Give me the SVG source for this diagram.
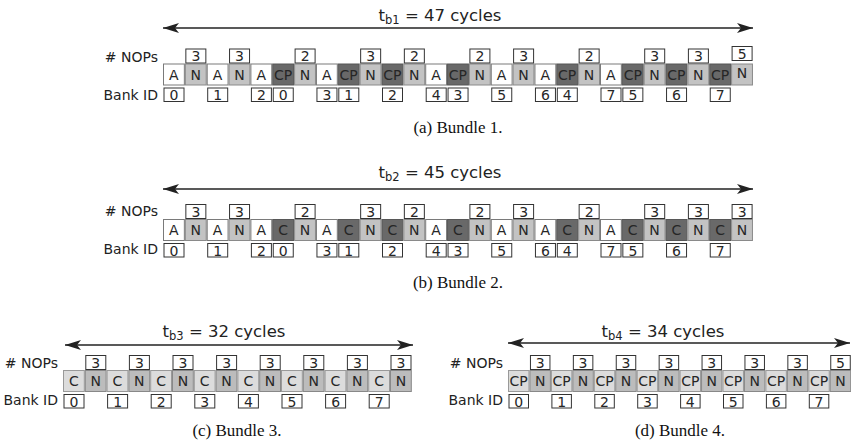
<svg xmlns="http://www.w3.org/2000/svg" width="851" height="444" viewBox="0 0 851 444">
<style>
.cA{fill:#ffffff;stroke:#7a7a7a;stroke-width:1}
.cN{fill:#c3c3c3;stroke:#8a8a8a;stroke-width:1}
.cD{fill:#696969;stroke:#575757;stroke-width:1}
.cL{fill:#dcdcdc;stroke:#999;stroke-width:1}
.cM{fill:#bcbcbc;stroke:#888;stroke-width:1}
.bx{fill:#ffffff;stroke:#333;stroke-width:1}
.t{font-family:"DejaVu Sans",sans-serif;font-size:14px;fill:#262626;text-anchor:middle}
.lb{font-family:"DejaVu Sans",sans-serif;font-size:14px;fill:#222;text-anchor:end}
.ti{font-family:"DejaVu Sans",sans-serif;font-size:16.5px;fill:#222;text-anchor:middle}
.cap{font-family:"Liberation Serif",serif;font-size:17px;fill:#111;text-anchor:middle}
.ar{stroke:#222;stroke-width:1.5;fill:none;marker-start:url(#ah);marker-end:url(#ah)}
</style>
<defs>
<marker id="ah" viewBox="0 0 16 10" refX="16" refY="5" markerWidth="16" markerHeight="10" markerUnits="userSpaceOnUse" orient="auto-start-reverse">
<path d="M0,0 L16,5 L0,10 L4,5 Z" fill="#222"/>
</marker>
</defs>

<g id="connectors">
<line class="ar" x1="163" y1="28" x2="753" y2="28"/>
<line class="ar" x1="163" y1="189" x2="753" y2="189"/>
<line class="ar" x1="65" y1="345" x2="413" y2="345"/>
<line class="ar" x1="508" y1="343" x2="850" y2="343"/>
</g>

<!-- Bundle 1 -->
<g id="bundle1">
<text class="ti" x="440" y="21">t<tspan font-size="11.5" dy="3">b1</tspan><tspan dy="-3"> = 47 cycles</tspan></text>
<text class="lb" x="158" y="61.5"># NOPs</text>
<text class="lb" x="158" y="100">Bank ID</text>
<g id="b1-0" transform="translate(163,63.5)"><rect class="cA" x="0.5" y="0.5" width="20.85" height="21"/><text class="t" x="10.9" y="16">A</text><rect class="bx" x="1" y="24.5" width="20" height="13.5"/><text class="t" x="11" y="36.5">0</text></g>
<g id="b1-1" transform="translate(184.85,63.5)"><rect class="cN" x="0.5" y="0.5" width="20.85" height="21"/><text class="t" x="10.9" y="16">N</text><rect class="bx" x="1" y="-14.5" width="20" height="14"/><text class="t" x="11" y="-2.5">3</text></g>
<g id="b1-2" transform="translate(206.7,63.5)"><rect class="cA" x="0.5" y="0.5" width="20.85" height="21"/><text class="t" x="10.9" y="16">A</text><rect class="bx" x="1" y="24.5" width="20" height="13.5"/><text class="t" x="11" y="36.5">1</text></g>
<g id="b1-3" transform="translate(228.55,63.5)"><rect class="cN" x="0.5" y="0.5" width="20.85" height="21"/><text class="t" x="10.9" y="16">N</text><rect class="bx" x="1" y="-14.5" width="20" height="14"/><text class="t" x="11" y="-2.5">3</text></g>
<g id="b1-4" transform="translate(250.4,63.5)"><rect class="cA" x="0.5" y="0.5" width="20.85" height="21"/><text class="t" x="10.9" y="16">A</text><rect class="bx" x="1" y="24.5" width="20" height="13.5"/><text class="t" x="11" y="36.5">2</text></g>
<g id="b1-5" transform="translate(272.25,63.5)"><rect class="cD" x="0.5" y="0.5" width="20.85" height="21"/><text class="t" x="10.9" y="16">CP</text><rect class="bx" x="1" y="24.5" width="20" height="13.5"/><text class="t" x="11" y="36.5">0</text></g>
<g id="b1-6" transform="translate(294.1,63.5)"><rect class="cN" x="0.5" y="0.5" width="20.85" height="21"/><text class="t" x="10.9" y="16">N</text><rect class="bx" x="1" y="-14.5" width="20" height="14"/><text class="t" x="11" y="-2.5">2</text></g>
<g id="b1-7" transform="translate(315.95,63.5)"><rect class="cA" x="0.5" y="0.5" width="20.85" height="21"/><text class="t" x="10.9" y="16">A</text><rect class="bx" x="1" y="24.5" width="20" height="13.5"/><text class="t" x="11" y="36.5">3</text></g>
<g id="b1-8" transform="translate(337.8,63.5)"><rect class="cD" x="0.5" y="0.5" width="20.85" height="21"/><text class="t" x="10.9" y="16">CP</text><rect class="bx" x="1" y="24.5" width="20" height="13.5"/><text class="t" x="11" y="36.5">1</text></g>
<g id="b1-9" transform="translate(359.65,63.5)"><rect class="cN" x="0.5" y="0.5" width="20.85" height="21"/><text class="t" x="10.9" y="16">N</text><rect class="bx" x="1" y="-14.5" width="20" height="14"/><text class="t" x="11" y="-2.5">3</text></g>
<g id="b1-10" transform="translate(381.5,63.5)"><rect class="cD" x="0.5" y="0.5" width="20.85" height="21"/><text class="t" x="10.9" y="16">CP</text><rect class="bx" x="1" y="24.5" width="20" height="13.5"/><text class="t" x="11" y="36.5">2</text></g>
<g id="b1-11" transform="translate(403.35,63.5)"><rect class="cN" x="0.5" y="0.5" width="20.85" height="21"/><text class="t" x="10.9" y="16">N</text><rect class="bx" x="1" y="-14.5" width="20" height="14"/><text class="t" x="11" y="-2.5">2</text></g>
<g id="b1-12" transform="translate(425.2,63.5)"><rect class="cA" x="0.5" y="0.5" width="20.85" height="21"/><text class="t" x="10.9" y="16">A</text><rect class="bx" x="1" y="24.5" width="20" height="13.5"/><text class="t" x="11" y="36.5">4</text></g>
<g id="b1-13" transform="translate(447.05,63.5)"><rect class="cD" x="0.5" y="0.5" width="20.85" height="21"/><text class="t" x="10.9" y="16">CP</text><rect class="bx" x="1" y="24.5" width="20" height="13.5"/><text class="t" x="11" y="36.5">3</text></g>
<g id="b1-14" transform="translate(468.9,63.5)"><rect class="cN" x="0.5" y="0.5" width="20.85" height="21"/><text class="t" x="10.9" y="16">N</text><rect class="bx" x="1" y="-14.5" width="20" height="14"/><text class="t" x="11" y="-2.5">2</text></g>
<g id="b1-15" transform="translate(490.75,63.5)"><rect class="cA" x="0.5" y="0.5" width="20.85" height="21"/><text class="t" x="10.9" y="16">A</text><rect class="bx" x="1" y="24.5" width="20" height="13.5"/><text class="t" x="11" y="36.5">5</text></g>
<g id="b1-16" transform="translate(512.6,63.5)"><rect class="cN" x="0.5" y="0.5" width="20.85" height="21"/><text class="t" x="10.9" y="16">N</text><rect class="bx" x="1" y="-14.5" width="20" height="14"/><text class="t" x="11" y="-2.5">3</text></g>
<g id="b1-17" transform="translate(534.45,63.5)"><rect class="cA" x="0.5" y="0.5" width="20.85" height="21"/><text class="t" x="10.9" y="16">A</text><rect class="bx" x="1" y="24.5" width="20" height="13.5"/><text class="t" x="11" y="36.5">6</text></g>
<g id="b1-18" transform="translate(556.3,63.5)"><rect class="cD" x="0.5" y="0.5" width="20.85" height="21"/><text class="t" x="10.9" y="16">CP</text><rect class="bx" x="1" y="24.5" width="20" height="13.5"/><text class="t" x="11" y="36.5">4</text></g>
<g id="b1-19" transform="translate(578.15,63.5)"><rect class="cN" x="0.5" y="0.5" width="20.85" height="21"/><text class="t" x="10.9" y="16">N</text><rect class="bx" x="1" y="-14.5" width="20" height="14"/><text class="t" x="11" y="-2.5">2</text></g>
<g id="b1-20" transform="translate(600,63.5)"><rect class="cA" x="0.5" y="0.5" width="20.85" height="21"/><text class="t" x="10.9" y="16">A</text><rect class="bx" x="1" y="24.5" width="20" height="13.5"/><text class="t" x="11" y="36.5">7</text></g>
<g id="b1-21" transform="translate(621.85,63.5)"><rect class="cD" x="0.5" y="0.5" width="20.85" height="21"/><text class="t" x="10.9" y="16">CP</text><rect class="bx" x="1" y="24.5" width="20" height="13.5"/><text class="t" x="11" y="36.5">5</text></g>
<g id="b1-22" transform="translate(643.7,63.5)"><rect class="cN" x="0.5" y="0.5" width="20.85" height="21"/><text class="t" x="10.9" y="16">N</text><rect class="bx" x="1" y="-14.5" width="20" height="14"/><text class="t" x="11" y="-2.5">3</text></g>
<g id="b1-23" transform="translate(665.55,63.5)"><rect class="cD" x="0.5" y="0.5" width="20.85" height="21"/><text class="t" x="10.9" y="16">CP</text><rect class="bx" x="1" y="24.5" width="20" height="13.5"/><text class="t" x="11" y="36.5">6</text></g>
<g id="b1-24" transform="translate(687.4,63.5)"><rect class="cN" x="0.5" y="0.5" width="20.85" height="21"/><text class="t" x="10.9" y="16">N</text><rect class="bx" x="1" y="-14.5" width="20" height="14"/><text class="t" x="11" y="-2.5">3</text></g>
<g id="b1-25" transform="translate(709.25,63.5)"><rect class="cD" x="0.5" y="0.5" width="20.85" height="21"/><text class="t" x="10.9" y="16">CP</text><rect class="bx" x="1" y="24.5" width="20" height="13.5"/><text class="t" x="11" y="36.5">7</text></g>
<g id="b1-26" transform="translate(731.1,63.5)"><rect class="cN" x="0.5" y="0.5" width="20.85" height="21"/><text class="t" x="10.9" y="14">N</text><rect class="bx" x="1" y="-17" width="20" height="14"/><text class="t" x="11" y="-5">5</text></g>
<text class="cap" x="458" y="133">(a) Bundle 1.</text>
</g>

<!-- Bundle 2 -->
<g id="bundle2">
<text class="ti" x="440" y="178">t<tspan font-size="11.5" dy="3">b2</tspan><tspan dy="-3"> = 45 cycles</tspan></text>
<text class="lb" x="158" y="215.5"># NOPs</text>
<text class="lb" x="158" y="254">Bank ID</text>
<g id="b2-0" transform="translate(163,219)"><rect class="cA" x="0.5" y="0.5" width="20.85" height="21"/><text class="t" x="10.9" y="16">A</text><rect class="bx" x="1" y="24.5" width="20" height="13.5"/><text class="t" x="11" y="36.5">0</text></g>
<g id="b2-1" transform="translate(184.85,219)"><rect class="cN" x="0.5" y="0.5" width="20.85" height="21"/><text class="t" x="10.9" y="16">N</text><rect class="bx" x="1" y="-14.5" width="20" height="14"/><text class="t" x="11" y="-2.5">3</text></g>
<g id="b2-2" transform="translate(206.7,219)"><rect class="cA" x="0.5" y="0.5" width="20.85" height="21"/><text class="t" x="10.9" y="16">A</text><rect class="bx" x="1" y="24.5" width="20" height="13.5"/><text class="t" x="11" y="36.5">1</text></g>
<g id="b2-3" transform="translate(228.55,219)"><rect class="cN" x="0.5" y="0.5" width="20.85" height="21"/><text class="t" x="10.9" y="16">N</text><rect class="bx" x="1" y="-14.5" width="20" height="14"/><text class="t" x="11" y="-2.5">3</text></g>
<g id="b2-4" transform="translate(250.4,219)"><rect class="cA" x="0.5" y="0.5" width="20.85" height="21"/><text class="t" x="10.9" y="16">A</text><rect class="bx" x="1" y="24.5" width="20" height="13.5"/><text class="t" x="11" y="36.5">2</text></g>
<g id="b2-5" transform="translate(272.25,219)"><rect class="cD" x="0.5" y="0.5" width="20.85" height="21"/><text class="t" x="10.9" y="16">C</text><rect class="bx" x="1" y="24.5" width="20" height="13.5"/><text class="t" x="11" y="36.5">0</text></g>
<g id="b2-6" transform="translate(294.1,219)"><rect class="cN" x="0.5" y="0.5" width="20.85" height="21"/><text class="t" x="10.9" y="16">N</text><rect class="bx" x="1" y="-14.5" width="20" height="14"/><text class="t" x="11" y="-2.5">2</text></g>
<g id="b2-7" transform="translate(315.95,219)"><rect class="cA" x="0.5" y="0.5" width="20.85" height="21"/><text class="t" x="10.9" y="16">A</text><rect class="bx" x="1" y="24.5" width="20" height="13.5"/><text class="t" x="11" y="36.5">3</text></g>
<g id="b2-8" transform="translate(337.8,219)"><rect class="cD" x="0.5" y="0.5" width="20.85" height="21"/><text class="t" x="10.9" y="16">C</text><rect class="bx" x="1" y="24.5" width="20" height="13.5"/><text class="t" x="11" y="36.5">1</text></g>
<g id="b2-9" transform="translate(359.65,219)"><rect class="cN" x="0.5" y="0.5" width="20.85" height="21"/><text class="t" x="10.9" y="16">N</text><rect class="bx" x="1" y="-14.5" width="20" height="14"/><text class="t" x="11" y="-2.5">3</text></g>
<g id="b2-10" transform="translate(381.5,219)"><rect class="cD" x="0.5" y="0.5" width="20.85" height="21"/><text class="t" x="10.9" y="16">C</text><rect class="bx" x="1" y="24.5" width="20" height="13.5"/><text class="t" x="11" y="36.5">2</text></g>
<g id="b2-11" transform="translate(403.35,219)"><rect class="cN" x="0.5" y="0.5" width="20.85" height="21"/><text class="t" x="10.9" y="16">N</text><rect class="bx" x="1" y="-14.5" width="20" height="14"/><text class="t" x="11" y="-2.5">2</text></g>
<g id="b2-12" transform="translate(425.2,219)"><rect class="cA" x="0.5" y="0.5" width="20.85" height="21"/><text class="t" x="10.9" y="16">A</text><rect class="bx" x="1" y="24.5" width="20" height="13.5"/><text class="t" x="11" y="36.5">4</text></g>
<g id="b2-13" transform="translate(447.05,219)"><rect class="cD" x="0.5" y="0.5" width="20.85" height="21"/><text class="t" x="10.9" y="16">C</text><rect class="bx" x="1" y="24.5" width="20" height="13.5"/><text class="t" x="11" y="36.5">3</text></g>
<g id="b2-14" transform="translate(468.9,219)"><rect class="cN" x="0.5" y="0.5" width="20.85" height="21"/><text class="t" x="10.9" y="16">N</text><rect class="bx" x="1" y="-14.5" width="20" height="14"/><text class="t" x="11" y="-2.5">2</text></g>
<g id="b2-15" transform="translate(490.75,219)"><rect class="cA" x="0.5" y="0.5" width="20.85" height="21"/><text class="t" x="10.9" y="16">A</text><rect class="bx" x="1" y="24.5" width="20" height="13.5"/><text class="t" x="11" y="36.5">5</text></g>
<g id="b2-16" transform="translate(512.6,219)"><rect class="cN" x="0.5" y="0.5" width="20.85" height="21"/><text class="t" x="10.9" y="16">N</text><rect class="bx" x="1" y="-14.5" width="20" height="14"/><text class="t" x="11" y="-2.5">3</text></g>
<g id="b2-17" transform="translate(534.45,219)"><rect class="cA" x="0.5" y="0.5" width="20.85" height="21"/><text class="t" x="10.9" y="16">A</text><rect class="bx" x="1" y="24.5" width="20" height="13.5"/><text class="t" x="11" y="36.5">6</text></g>
<g id="b2-18" transform="translate(556.3,219)"><rect class="cD" x="0.5" y="0.5" width="20.85" height="21"/><text class="t" x="10.9" y="16">C</text><rect class="bx" x="1" y="24.5" width="20" height="13.5"/><text class="t" x="11" y="36.5">4</text></g>
<g id="b2-19" transform="translate(578.15,219)"><rect class="cN" x="0.5" y="0.5" width="20.85" height="21"/><text class="t" x="10.9" y="16">N</text><rect class="bx" x="1" y="-14.5" width="20" height="14"/><text class="t" x="11" y="-2.5">2</text></g>
<g id="b2-20" transform="translate(600,219)"><rect class="cA" x="0.5" y="0.5" width="20.85" height="21"/><text class="t" x="10.9" y="16">A</text><rect class="bx" x="1" y="24.5" width="20" height="13.5"/><text class="t" x="11" y="36.5">7</text></g>
<g id="b2-21" transform="translate(621.85,219)"><rect class="cD" x="0.5" y="0.5" width="20.85" height="21"/><text class="t" x="10.9" y="16">C</text><rect class="bx" x="1" y="24.5" width="20" height="13.5"/><text class="t" x="11" y="36.5">5</text></g>
<g id="b2-22" transform="translate(643.7,219)"><rect class="cN" x="0.5" y="0.5" width="20.85" height="21"/><text class="t" x="10.9" y="16">N</text><rect class="bx" x="1" y="-14.5" width="20" height="14"/><text class="t" x="11" y="-2.5">3</text></g>
<g id="b2-23" transform="translate(665.55,219)"><rect class="cD" x="0.5" y="0.5" width="20.85" height="21"/><text class="t" x="10.9" y="16">C</text><rect class="bx" x="1" y="24.5" width="20" height="13.5"/><text class="t" x="11" y="36.5">6</text></g>
<g id="b2-24" transform="translate(687.4,219)"><rect class="cN" x="0.5" y="0.5" width="20.85" height="21"/><text class="t" x="10.9" y="16">N</text><rect class="bx" x="1" y="-14.5" width="20" height="14"/><text class="t" x="11" y="-2.5">3</text></g>
<g id="b2-25" transform="translate(709.25,219)"><rect class="cD" x="0.5" y="0.5" width="20.85" height="21"/><text class="t" x="10.9" y="16">C</text><rect class="bx" x="1" y="24.5" width="20" height="13.5"/><text class="t" x="11" y="36.5">7</text></g>
<g id="b2-26" transform="translate(731.1,219)"><rect class="cN" x="0.5" y="0.5" width="20.85" height="21"/><text class="t" x="10.9" y="16">N</text><rect class="bx" x="1" y="-14.5" width="20" height="14"/><text class="t" x="11" y="-2.5">3</text></g>
<text class="cap" x="458" y="288">(b) Bundle 2.</text>
</g>

<!-- Bundle 3 -->
<g id="bundle3">
<text class="ti" x="224" y="337">t<tspan font-size="11.5" dy="3">b3</tspan><tspan dy="-3"> = 32 cycles</tspan></text>
<text class="lb" x="58" y="368"># NOPs</text>
<text class="lb" x="58" y="405">Bank ID</text>
<g id="b3-0" transform="translate(63,370)"><rect class="cL" x="0.5" y="0.5" width="20.8" height="21"/><text class="t" x="10.9" y="16">C</text><rect class="bx" x="1" y="24.5" width="20" height="13.5"/><text class="t" x="11" y="36.5">0</text></g>
<g id="b3-1" transform="translate(84.8,370)"><rect class="cM" x="0.5" y="0.5" width="20.8" height="21"/><text class="t" x="10.9" y="16">N</text><rect class="bx" x="1" y="-14.5" width="20" height="14"/><text class="t" x="11" y="-2.5">3</text></g>
<g id="b3-2" transform="translate(106.6,370)"><rect class="cL" x="0.5" y="0.5" width="20.8" height="21"/><text class="t" x="10.9" y="16">C</text><rect class="bx" x="1" y="24.5" width="20" height="13.5"/><text class="t" x="11" y="36.5">1</text></g>
<g id="b3-3" transform="translate(128.4,370)"><rect class="cM" x="0.5" y="0.5" width="20.8" height="21"/><text class="t" x="10.9" y="16">N</text><rect class="bx" x="1" y="-14.5" width="20" height="14"/><text class="t" x="11" y="-2.5">3</text></g>
<g id="b3-4" transform="translate(150.2,370)"><rect class="cL" x="0.5" y="0.5" width="20.8" height="21"/><text class="t" x="10.9" y="16">C</text><rect class="bx" x="1" y="24.5" width="20" height="13.5"/><text class="t" x="11" y="36.5">2</text></g>
<g id="b3-5" transform="translate(172,370)"><rect class="cM" x="0.5" y="0.5" width="20.8" height="21"/><text class="t" x="10.9" y="16">N</text><rect class="bx" x="1" y="-14.5" width="20" height="14"/><text class="t" x="11" y="-2.5">3</text></g>
<g id="b3-6" transform="translate(193.8,370)"><rect class="cL" x="0.5" y="0.5" width="20.8" height="21"/><text class="t" x="10.9" y="16">C</text><rect class="bx" x="1" y="24.5" width="20" height="13.5"/><text class="t" x="11" y="36.5">3</text></g>
<g id="b3-7" transform="translate(215.6,370)"><rect class="cM" x="0.5" y="0.5" width="20.8" height="21"/><text class="t" x="10.9" y="16">N</text><rect class="bx" x="1" y="-14.5" width="20" height="14"/><text class="t" x="11" y="-2.5">3</text></g>
<g id="b3-8" transform="translate(237.4,370)"><rect class="cL" x="0.5" y="0.5" width="20.8" height="21"/><text class="t" x="10.9" y="16">C</text><rect class="bx" x="1" y="24.5" width="20" height="13.5"/><text class="t" x="11" y="36.5">4</text></g>
<g id="b3-9" transform="translate(259.2,370)"><rect class="cM" x="0.5" y="0.5" width="20.8" height="21"/><text class="t" x="10.9" y="16">N</text><rect class="bx" x="1" y="-14.5" width="20" height="14"/><text class="t" x="11" y="-2.5">3</text></g>
<g id="b3-10" transform="translate(281,370)"><rect class="cL" x="0.5" y="0.5" width="20.8" height="21"/><text class="t" x="10.9" y="16">C</text><rect class="bx" x="1" y="24.5" width="20" height="13.5"/><text class="t" x="11" y="36.5">5</text></g>
<g id="b3-11" transform="translate(302.8,370)"><rect class="cM" x="0.5" y="0.5" width="20.8" height="21"/><text class="t" x="10.9" y="16">N</text><rect class="bx" x="1" y="-14.5" width="20" height="14"/><text class="t" x="11" y="-2.5">3</text></g>
<g id="b3-12" transform="translate(324.6,370)"><rect class="cL" x="0.5" y="0.5" width="20.8" height="21"/><text class="t" x="10.9" y="16">C</text><rect class="bx" x="1" y="24.5" width="20" height="13.5"/><text class="t" x="11" y="36.5">6</text></g>
<g id="b3-13" transform="translate(346.4,370)"><rect class="cM" x="0.5" y="0.5" width="20.8" height="21"/><text class="t" x="10.9" y="16">N</text><rect class="bx" x="1" y="-14.5" width="20" height="14"/><text class="t" x="11" y="-2.5">3</text></g>
<g id="b3-14" transform="translate(368.2,370)"><rect class="cL" x="0.5" y="0.5" width="20.8" height="21"/><text class="t" x="10.9" y="16">C</text><rect class="bx" x="1" y="24.5" width="20" height="13.5"/><text class="t" x="11" y="36.5">7</text></g>
<g id="b3-15" transform="translate(390,370)"><rect class="cM" x="0.5" y="0.5" width="20.8" height="21"/><text class="t" x="10.9" y="16">N</text><rect class="bx" x="1" y="-14.5" width="20" height="14"/><text class="t" x="11" y="-2.5">3</text></g>
<text class="cap" x="237" y="436">(c) Bundle 3.</text>
</g>

<!-- Bundle 4 -->
<g id="bundle4">
<text class="ti" x="663" y="337">t<tspan font-size="11.5" dy="3">b4</tspan><tspan dy="-3"> = 34 cycles</tspan></text>
<text class="lb" x="503" y="368"># NOPs</text>
<text class="lb" x="503" y="405">Bank ID</text>
<g id="b4-0" transform="translate(508,370)"><rect class="cL" x="0.5" y="0.5" width="20.45" height="21"/><text class="t" x="10.7" y="16">CP</text><rect class="bx" x="1" y="24.5" width="19.5" height="13.5"/><text class="t" x="10.7" y="36.5">0</text></g>
<g id="b4-1" transform="translate(529.45,370)"><rect class="cM" x="0.5" y="0.5" width="20.45" height="21"/><text class="t" x="10.7" y="16">N</text><rect class="bx" x="1" y="-14.5" width="19.5" height="14"/><text class="t" x="10.7" y="-2.5">3</text></g>
<g id="b4-2" transform="translate(550.9,370)"><rect class="cL" x="0.5" y="0.5" width="20.45" height="21"/><text class="t" x="10.7" y="16">CP</text><rect class="bx" x="1" y="24.5" width="19.5" height="13.5"/><text class="t" x="10.7" y="36.5">1</text></g>
<g id="b4-3" transform="translate(572.35,370)"><rect class="cM" x="0.5" y="0.5" width="20.45" height="21"/><text class="t" x="10.7" y="16">N</text><rect class="bx" x="1" y="-14.5" width="19.5" height="14"/><text class="t" x="10.7" y="-2.5">3</text></g>
<g id="b4-4" transform="translate(593.8,370)"><rect class="cL" x="0.5" y="0.5" width="20.45" height="21"/><text class="t" x="10.7" y="16">CP</text><rect class="bx" x="1" y="24.5" width="19.5" height="13.5"/><text class="t" x="10.7" y="36.5">2</text></g>
<g id="b4-5" transform="translate(615.25,370)"><rect class="cM" x="0.5" y="0.5" width="20.45" height="21"/><text class="t" x="10.7" y="16">N</text><rect class="bx" x="1" y="-14.5" width="19.5" height="14"/><text class="t" x="10.7" y="-2.5">3</text></g>
<g id="b4-6" transform="translate(636.7,370)"><rect class="cL" x="0.5" y="0.5" width="20.45" height="21"/><text class="t" x="10.7" y="16">CP</text><rect class="bx" x="1" y="24.5" width="19.5" height="13.5"/><text class="t" x="10.7" y="36.5">3</text></g>
<g id="b4-7" transform="translate(658.15,370)"><rect class="cM" x="0.5" y="0.5" width="20.45" height="21"/><text class="t" x="10.7" y="16">N</text><rect class="bx" x="1" y="-14.5" width="19.5" height="14"/><text class="t" x="10.7" y="-2.5">3</text></g>
<g id="b4-8" transform="translate(679.6,370)"><rect class="cL" x="0.5" y="0.5" width="20.45" height="21"/><text class="t" x="10.7" y="16">CP</text><rect class="bx" x="1" y="24.5" width="19.5" height="13.5"/><text class="t" x="10.7" y="36.5">4</text></g>
<g id="b4-9" transform="translate(701.05,370)"><rect class="cM" x="0.5" y="0.5" width="20.45" height="21"/><text class="t" x="10.7" y="16">N</text><rect class="bx" x="1" y="-14.5" width="19.5" height="14"/><text class="t" x="10.7" y="-2.5">3</text></g>
<g id="b4-10" transform="translate(722.5,370)"><rect class="cL" x="0.5" y="0.5" width="20.45" height="21"/><text class="t" x="10.7" y="16">CP</text><rect class="bx" x="1" y="24.5" width="19.5" height="13.5"/><text class="t" x="10.7" y="36.5">5</text></g>
<g id="b4-11" transform="translate(743.95,370)"><rect class="cM" x="0.5" y="0.5" width="20.45" height="21"/><text class="t" x="10.7" y="16">N</text><rect class="bx" x="1" y="-14.5" width="19.5" height="14"/><text class="t" x="10.7" y="-2.5">3</text></g>
<g id="b4-12" transform="translate(765.4,370)"><rect class="cL" x="0.5" y="0.5" width="20.45" height="21"/><text class="t" x="10.7" y="16">CP</text><rect class="bx" x="1" y="24.5" width="19.5" height="13.5"/><text class="t" x="10.7" y="36.5">6</text></g>
<g id="b4-13" transform="translate(786.85,370)"><rect class="cM" x="0.5" y="0.5" width="20.45" height="21"/><text class="t" x="10.7" y="16">N</text><rect class="bx" x="1" y="-14.5" width="19.5" height="14"/><text class="t" x="10.7" y="-2.5">3</text></g>
<g id="b4-14" transform="translate(808.3,370)"><rect class="cL" x="0.5" y="0.5" width="20.45" height="21"/><text class="t" x="10.7" y="16">CP</text><rect class="bx" x="1" y="24.5" width="19.5" height="13.5"/><text class="t" x="10.7" y="36.5">7</text></g>
<g id="b4-15" transform="translate(829.75,370)"><rect class="cM" x="0.5" y="0.5" width="20.45" height="21"/><text class="t" x="10.7" y="16">N</text><rect class="bx" x="1" y="-14.5" width="19.5" height="14"/><text class="t" x="10.7" y="-2.5">5</text></g>
<text class="cap" x="680" y="436">(d) Bundle 4.</text>
</g>
</svg>
